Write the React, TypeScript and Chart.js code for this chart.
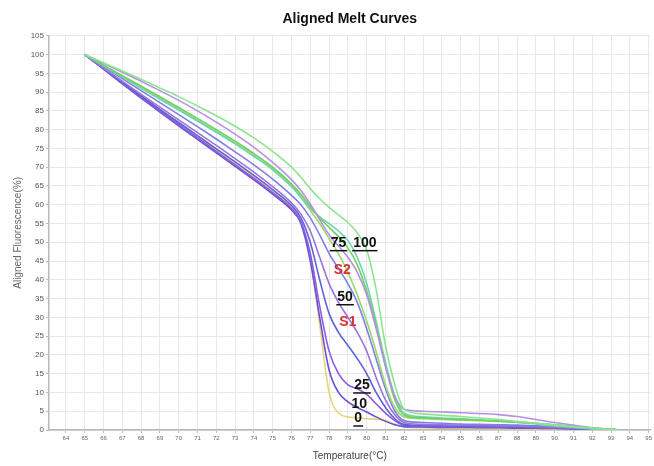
import React, { useEffect, useRef } from "react";
import { Chart, registerables } from "chart.js";
Chart.register(...registerables);

const temps = [65, 66, 67, 68, 69, 70, 71, 72, 73, 74, 75, 76, 76.5, 77, 77.5, 78, 78.5, 79, 79.5, 80, 80.5, 81, 81.5, 82, 83, 84, 85, 86, 87, 88, 89, 90, 91, 92, 93, 93.5];

const curve100 = [100, 97.8, 95.6, 93.4, 91.1, 88.8, 86.3, 83.7, 80.9, 77.8, 74.2, 70, 67.3, 64.3, 61.6, 59.3, 57.3, 55.3, 52.5, 48, 37.5, 22.5, 12, 5.5, 4.3, 3.9, 3.6, 3.2, 2.8, 2.3, 1.8, 1.3, 0.9, 0.5, 0.2, 0];
const curve75 = [100, 97.7, 95.3, 92.9, 90.4, 87.8, 85, 82, 78.8, 75.3, 71.3, 66.7, 63.8, 60.2, 56, 52, 49, 46, 42, 36, 27, 17, 9, 5.5, 5, 4.8, 4.6, 4.4, 4.1, 3.6, 2.8, 2, 1.3, 0.6, 0.2, 0];
const curveG1 = [100, 97.2, 94.4, 91.6, 88.8, 85.9, 83, 80, 76.9, 73.6, 70, 65.5, 62.8, 59.5, 56.5, 54, 51.5, 48.5, 44, 37, 28, 17, 8, 4, 3.2, 3, 2.8, 2.6, 2.4, 2.2, 1.8, 1.4, 1, 0.5, 0.2, 0];
const curveG2 = [100, 97, 94, 91, 88.1, 85.2, 82.3, 79.3, 76.2, 72.9, 69.3, 64.8, 62, 59, 56.8, 55, 53, 50.5, 46, 39, 29, 18, 9, 4.5, 3.5, 3.2, 3, 2.7, 2.4, 2, 1.6, 1.1, 0.7, 0.3, 0, 0];
const curveG3 = [100, 97.1, 94.2, 91.3, 88.4, 85.5, 82.5, 79.5, 76.4, 73.1, 69.6, 65.2, 62, 58.5, 55, 51, 47, 42, 36, 29, 21, 12, 6, 3.5, 3, 2.8, 2.6, 2.5, 2.3, 2.1, 1.8, 1.4, 1, 0.6, 0.2, 0];
const curveS2 = [100, 96.8, 93.6, 90.4, 87.2, 84, 80.8, 77.5, 74.1, 70.6, 66.8, 62.5, 60, 56.5, 52, 47, 43, 39, 34, 27, 19, 11, 5, 2.5, 2, 1.8, 1.6, 1.5, 1.4, 1.3, 1.1, 0.9, 0.6, 0.3, 0.1, 0];
const curve50 = [100, 96.4, 92.9, 89.4, 86, 82.6, 79.2, 75.8, 72.3, 68.7, 64.8, 60.5, 57.5, 53, 46, 39, 34, 30, 26, 21, 14, 8, 4, 2, 1.5, 1.4, 1.3, 1.2, 1.1, 1, 0.9, 0.7, 0.5, 0.3, 0.1, 0];
const curveS1 = [100, 96.3, 92.6, 89, 85.4, 81.9, 78.4, 74.9, 71.4, 67.8, 64, 59.8, 56.5, 50, 40, 31, 26, 22.5, 19, 15, 10, 6, 3, 1.5, 1.2, 1.1, 1, 1, 0.9, 0.8, 0.7, 0.6, 0.4, 0.2, 0.1, 0];
const curve25 = [100, 96.2, 92.4, 88.7, 85, 81.4, 77.8, 74.2, 70.6, 67, 63.2, 59, 55.5, 47, 33, 21, 15, 12, 11, 9.5, 7, 4.5, 2.5, 1.2, 1, 0.9, 0.9, 0.8, 0.8, 0.7, 0.6, 0.5, 0.3, 0.2, 0.1, 0];
const curve10 = [100, 96.1, 92.2, 88.4, 84.7, 81, 77.4, 73.8, 70.2, 66.6, 62.8, 58.6, 55, 45, 30, 16, 10, 7.5, 6, 4.8, 3.5, 2.3, 1.4, 0.9, 0.8, 0.7, 0.7, 0.6, 0.6, 0.5, 0.5, 0.4, 0.3, 0.2, 0.1, 0];
const curve0 = [100, 96.3, 92.6, 89, 85.4, 81.8, 78.2, 74.6, 71, 67.4, 63.5, 59.3, 55.5, 46, 28, 10, 4.5, 3.5, 3.2, 3, 2.9, 2.6, 1.5, 0.8, 0.6, 0.5, 0.5, 0.4, 0.4, 0.3, 0.3, 0.2, 0.1, 0.1, 0, 0];

const seriesNames = ["100", "75", "G1", "G2", "G3", "S2", "50", "S1", "25", "10", "0"];
const seriesValues = [curve100, curve75, curveG1, curveG2, curveG3, curveS2, curve50, curveS1, curve25, curve10, curve0];
const seriesColors = ["#8fe48f", "#b690e6", "#6fcf5f", "#6cd6ae", "#9cd870", "#7f7fe6", "#9c72e0", "#5c62d8", "#8c5ae0", "#6a50d6", "#e8d47a"];

const noteTexts = ["75", "100", "S2", "50", "S1", "25", "10", "0"];
const noteT = [78.5, 79.9, 78.7, 78.85, 79.0, 79.75, 79.6, 79.55];
const noteF = [49.9, 49.9, 42.5, 35.5, 28.8, 12, 7, 3.2];
const noteColors = ["#111", "#111", "#d83030", "#111", "#d83030", "#111", "#111", "#111"];
const noteUnderline = [true, true, false, true, false, true, false, true];

const xTicks = [64, 65, 66, 67, 68, 69, 70, 71, 72, 73, 74, 75, 76, 77, 78, 79, 80, 81, 82, 83, 84, 85, 86, 87, 88, 89, 90, 91, 92, 93, 94, 95];

const notesPlugin = {
  id: "notes",
  afterDatasetsDraw(chart: any) {
    const ctx = chart.ctx;
    const xs = chart.scales.x;
    const ys = chart.scales.y;
    ctx.save();
    ctx.font = "bold 14px 'Liberation Sans', Arial, sans-serif";
    ctx.textAlign = "center";
    ctx.textBaseline = "middle";
    noteTexts.forEach((t, i) => {
      const px = xs.getPixelForValue(noteT[i]);
      const py = ys.getPixelForValue(noteF[i]);
      ctx.fillStyle = noteColors[i];
      ctx.fillText(t, px, py);
      if (noteUnderline[i]) {
        const w = ctx.measureText(t).width;
        ctx.strokeStyle = noteColors[i];
        ctx.lineWidth = 1.5;
        ctx.beginPath();
        ctx.moveTo(px - w / 2 - 1, py + 8);
        ctx.lineTo(px + w / 2 + 1, py + 8);
        ctx.stroke();
      }
    });
    ctx.restore();
  },
};

export default function App() {
  const ref = useRef<HTMLCanvasElement>(null);
  useEffect(() => {
    document.body.style.margin = "0";
    const chart = new Chart(ref.current as HTMLCanvasElement, {
      type: "line",
      data: {
        datasets: seriesNames.map((n, i) => ({
          label: n,
          data: temps.map((t, j) => ({ x: t, y: seriesValues[i][j] })),
          borderColor: seriesColors[i],
          backgroundColor: seriesColors[i],
          borderWidth: 1.6,
          pointRadius: 0,
          cubicInterpolationMode: "monotone" as const,
          fill: false,
        })),
      },
      options: {
        animation: false,
        responsive: true,
        maintainAspectRatio: false,
        layout: { padding: 0 },
        plugins: {
          legend: { display: false },
          tooltip: { enabled: false },
          title: {
            display: true,
            text: "Aligned Melt Curves",
            fullSize: false,
            color: "#111",
            font: { family: "'Liberation Sans', Arial, sans-serif", size: 14, weight: "bold" },
            padding: { top: 11, bottom: 8 },
          },
        },
        scales: {
          x: {
            type: "linear",
            min: 63.1,
            max: 95.1,
            afterBuildTicks: (axis: any) => {
              axis.ticks = xTicks.map((v) => ({ value: v }));
            },
            afterFit: (scale: any) => {
              scale.height = 36;
            },
            grid: { color: "#e8e8e8", tickLength: 3, tickColor: "#bbb" },
            border: { color: "#b8b8b8", width: 1.5 },
            ticks: {
              color: "#666",
              font: { family: "'Liberation Sans', Arial, sans-serif", size: 6 },
              padding: 2,
              maxRotation: 0,
              autoSkip: false,
            },
            title: {
              display: true,
              text: "Temperature(°C)",
              color: "#444",
              font: { family: "'Liberation Sans', Arial, sans-serif", size: 10 },
              padding: { top: 0, bottom: 4 },
            },
          },
          y: {
            min: 0,
            max: 105,
            afterFit: (scale: any) => {
              scale.width = 49;
            },
            grid: { color: "#e8e8e8", tickLength: 3, tickColor: "#bbb" },
            border: { color: "#b8b8b8", width: 1.5 },
            ticks: {
              stepSize: 5,
              color: "#555",
              font: { family: "'Liberation Sans', Arial, sans-serif", size: 8 },
              padding: 2,
            },
            title: {
              display: true,
              text: "Aligned Fluorescence(%)",
              color: "#666",
              font: { family: "'Liberation Sans', Arial, sans-serif", size: 10 },
              padding: { top: 12, bottom: 0 },
            },
          },
        },
      },
      plugins: [notesPlugin],
    });
    return () => chart.destroy();
  }, []);
  return (
    <div style={{ width: 654, height: 466, position: "relative", background: "#fff" }}>
      <canvas ref={ref} />
    </div>
  );
}
